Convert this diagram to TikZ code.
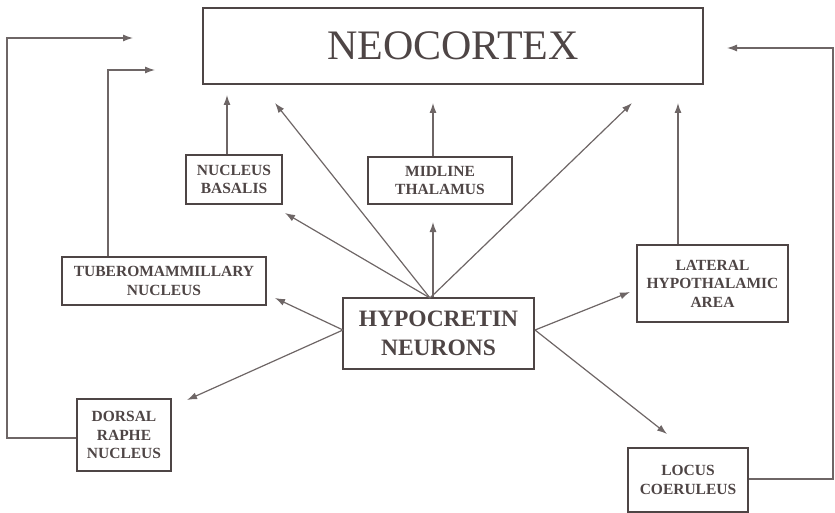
\documentclass[tikz,border=0pt]{standalone}
\usepackage{fontspec}
\setmainfont{Liberation Serif}
\usetikzlibrary{arrows.meta}
\definecolor{ink}{HTML}{4E4545}
\definecolor{wire}{HTML}{6E6666}
\begin{document}
\begin{tikzpicture}[x=1pt,y=-1pt,
  box/.style={draw=ink,line width=1.2pt,text=ink,align=center,inner sep=0pt,font=\bfseries\fontsize{15.5}{18.5}\selectfont},
  arr/.style={draw=wire,line width=1.2pt,-{Latex[length=10pt,width=7pt]}},
  wireline/.style={draw=wire,line width=1.2pt}]
\useasboundingbox (0,0) rectangle (835,513);
% boxes
\node[box,minimum width=500pt,minimum height=76pt,font=\fontsize{42}{46}\selectfont] (neo) at (453,46) {NEOCORTEX};
\node[box,minimum width=96pt,minimum height=49pt] (nb) at (234,179.5) {NUCLEUS\\BASALIS};
\node[box,minimum width=144pt,minimum height=47pt] (mt) at (440,180.5) {MIDLINE\\THALAMUS};
\node[box,minimum width=151pt,minimum height=77pt] (lha) at (712.5,283.5) {LATERAL\\HYPOTHALAMIC\\AREA};
\node[box,minimum width=191pt,minimum height=71pt,font=\bfseries\fontsize{23.5}{29}\selectfont] (hyp) at (438.5,333.5) {HYPOCRETIN\\NEURONS};
\node[box,minimum width=204pt,minimum height=48pt] (tmn) at (164,281) {TUBEROMAMMILLARY\\NUCLEUS};
\node[box,minimum width=94pt,minimum height=72pt] (drn) at (124,435) {DORSAL\\RAPHE\\NUCLEUS};
\node[box,minimum width=120pt,minimum height=64pt] (lc) at (688,480) {LOCUS\\COERULEUS};
% free ends
\coordinate (h0) at (430,298);
\coordinate (hl) at (343,330);
\coordinate (hr) at (535,330);
\coordinate (tNB) at (227,95);
\coordinate (tMT) at (433,103);
\coordinate (tLHA) at (678,103);
\coordinate (tN1) at (275,103);
\coordinate (tN2) at (632,103);
\coordinate (tNBb) at (285,213);
\coordinate (tMTb) at (433,222);
\coordinate (tTMN) at (275,298);
\coordinate (tDRN) at (187,400);
\coordinate (tLHAl) at (630,292);
\coordinate (tLC) at (667,434);
\coordinate (tTop1) at (133,38);
\coordinate (tTop2) at (155,70);
\coordinate (tTop3) at (727,48);
% connectors to neocortex
\draw[arr] (nb.north -| tNB) -- (tNB);
\draw[arr] (mt.north -| tMT) -- (tMT);
\draw[arr] (lha.north -| tLHA) -- (tLHA);
% fan from hypocretin
\draw[arr] (h0) -- (tN1);
\draw[arr] (h0) -- (tN2);
\draw[arr] (h0) -- (tNBb);
\draw[arr] (hyp.north -| tMTb) -- (tMTb);
\draw[arr] (hl) -- (tTMN);
\draw[arr] (hl) -- (tDRN);
\draw[arr] (hr) -- (tLHAl);
\draw[arr] (hr) -- (tLC);
% long feedback loops
\draw[arr] (tmn.north -| 108,0) -- (108,70) -- (tTop2);
\draw[arr] (drn.west |- 0,438) -- (7,438) -- (7,38) -- (tTop1);
\draw[arr] (lc.east |- 0,479) -- (833,479) -- (833,48) -- (tTop3);
\end{tikzpicture}
\end{document}
